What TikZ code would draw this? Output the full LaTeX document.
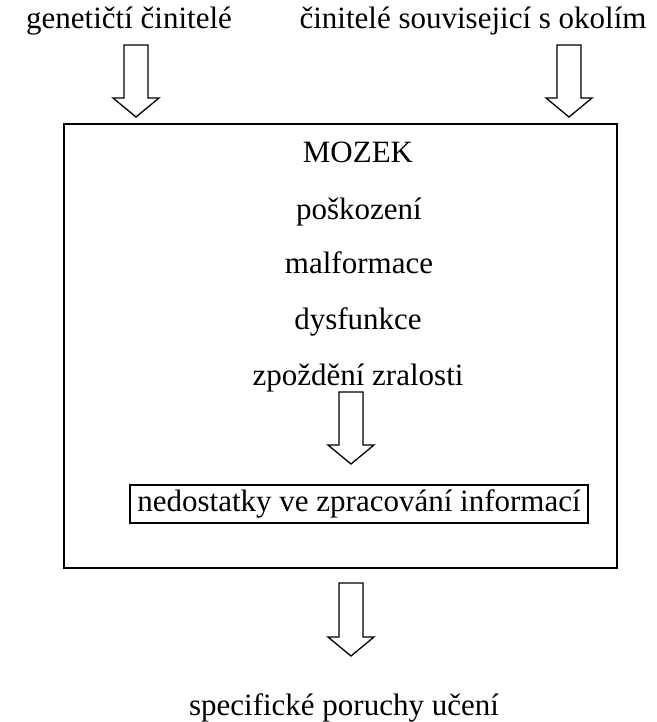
\documentclass[tikz,border=0pt]{standalone}
\usepackage{fontspec}
\setmainfont{Liberation Serif}
\usetikzlibrary{calc}
% hollow block arrow from (#1) down to its tip (#2)
\newcommand{\hollowarrow}[2]{%
	\draw[hollow] ($(#1)+(-\sw,0)$) -- ($(#2)+(-\sw,-\hh)$) -- ($(#2)+(-\hw,-\hh)$)
	-- (#2) -- ($(#2)+(\hw,-\hh)$) -- ($(#2)+(\sw,-\hh)$) -- ($(#1)+(\sw,0)$) -- cycle ;}
\begin{document}
\begin{tikzpicture}
	[x=1pt,y=-1pt,
	every node/.style={inner sep=0pt,outer sep=0,font=\fontsize{31}{37}\selectfont},
	txt/.style={anchor=base},
	hollow/.style={line width=1.3pt,line join=miter},
	frame/.style={draw,line width=1.8pt}]
	\def\sw{12}\def\hw{23}\def\hh{19}
	\useasboundingbox (0,0) rectangle (656,722) ;
	\node[txt] (gen)  at (129,29)  {genetičtí činitelé} ;
	\node[txt] (env)  at (473,29)  {činitelé souvisejicí s okolím} ;
	\draw[frame] (64,124) rectangle (617,568) ;
	\node[txt] (moz)  at (358,163) {MOZEK} ;
	\node[txt] (pos)  at (359,219) {poškození} ;
	\node[txt] (mal)  at (359,273) {malformace} ;
	\node[txt] (dys)  at (358,329) {dysfunkce} ;
	\node[txt] (zpo)  at (358,385) {zpoždění zralosti} ;
	\node[draw,line width=1.6pt,minimum width=458pt,minimum height=38pt]
	(info) at (359,504) {nedostatky ve zpracování informací} ;
	\node[txt] (spu)  at (344,715) {specifické poruchy učení} ;
	\coordinate (a1) at (136,45) ;  \coordinate (t1) at (136,117) ;
	\coordinate (a2) at (569,45) ;  \coordinate (t2) at (569,117) ;
	\coordinate (a3) at (351,392) ; \coordinate (t3) at (351,464) ;
	\coordinate (a4) at (351,583) ; \coordinate (t4) at (351,656) ;
	\hollowarrow{a1}{t1}
	\hollowarrow{a2}{t2}
	\hollowarrow{a3}{t3}
	\hollowarrow{a4}{t4}
\end{tikzpicture}
\end{document}
